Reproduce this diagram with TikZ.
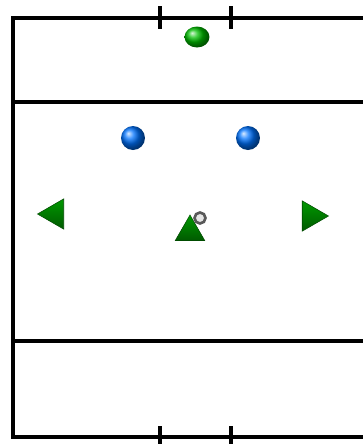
\documentclass[tikz,border=0pt]{standalone}
\usepackage{tikz}
\usetikzlibrary{shapes.geometric}

\tikzset{
  pitchline/.style={black, line width=1.9pt},
  ball/.style={circle, inner sep=0pt, minimum size=0.48cm, shading=ball},
  marker/.style={regular polygon, regular polygon sides=3, inner sep=0pt,
    minimum size=0.7cm, top color=green!60!black, bottom color=green!35!black,
    draw=green!30!black, line width=0.3pt}
}

\begin{document}
\begin{tikzpicture}[x=0.02cm, y=-0.02cm]
    \useasboundingbox (0,0) rectangle (363,444);

    % Pitch outline
    \draw[pitchline] (363,18) -- (13,18) -- (13,437) -- (363,437);
    \draw[pitchline] (13,102) -- (363,102);
    \draw[pitchline] (13,341) -- (363,341);

    % Goal posts
    \draw[pitchline] (160,6) -- (160,29);
    \draw[pitchline] (231,6) -- (231,29);
    \draw[pitchline] (160,426) -- (160,444);
    \draw[pitchline] (231,426) -- (231,444);

    % Balls
    \node[ball, ball color=green!75!black, minimum width=0.5cm, minimum height=0.42cm, ellipse] (keeper) at (197,37) {};
    \node[ball, ball color=blue!55!cyan] (blueL) at (133,138) {};
    \node[ball, ball color=blue!55!cyan] (blueR) at (248,138) {};

    % Markers
    \node[marker, shape border rotate=90] (triL) at (55,214) {};
    \node[marker, shape border rotate=-90] (triR) at (311,216) {};
    \node[marker, minimum size=0.68cm] (triC) at (190,232) {};
    \node[circle, draw=gray!70!black, fill=gray!20, line width=1.5pt, minimum size=0.22cm, inner sep=0pt] (cone) at (200,218) {};
\end{tikzpicture}
\end{document}
